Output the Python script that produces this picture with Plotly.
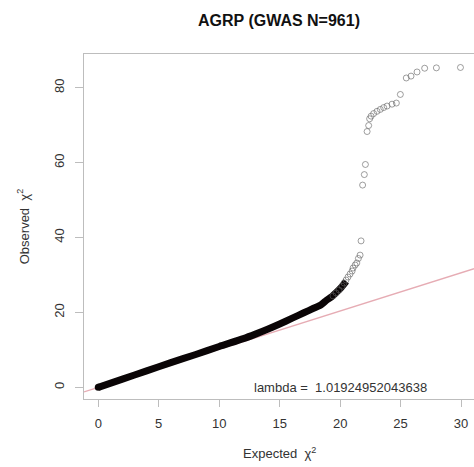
import plotly.graph_objects as go

TITLE = "AGRP (GWAS N=961)"
LAMBDA = 1.01924952043638

# dense body of the QQ curve (overlapping circles, drawn as a thick stroke)
body_expected = [0, 2, 4, 6, 8, 10, 12, 13, 14, 15, 16, 17, 17.8, 18.4, 18.9, 19.3, 19.7, 20.1, 20.5]
body_observed = [0, 2.2, 4.4, 6.6, 8.7, 10.9, 13.0, 14.2, 15.5, 16.9, 18.4, 19.9, 21.1, 22.0, 23.3, 24.2, 25.4, 26.7, 28.3]

# individually visible points in the upper tail
tail_expected = [19.41, 19.66, 19.91, 20.16, 20.32, 20.49, 20.65, 20.82, 20.99, 21.07, 21.24,
                 21.38, 21.51, 21.65, 21.73, 21.86, 22.0, 22.09, 22.23, 22.36, 22.44, 22.56,
                 22.77, 23.05, 23.32, 23.6, 23.88, 24.29, 24.65, 24.98, 25.47, 25.86, 26.36,
                 26.99, 27.96, 29.95]
tail_observed = [24.4, 25.2, 26.0, 27.0, 27.85, 28.65, 29.45, 30.25, 31.05, 31.85, 32.65,
                 33.2, 34.4, 35.3, 39.1, 54.0, 56.8, 59.5, 68.3, 69.9, 71.7, 72.4,
                 73.1, 73.7, 74.2, 74.7, 75.1, 75.6, 75.9, 78.2, 82.6, 83.1, 84.2,
                 85.2, 85.3, 85.4]

x_ticks = [0, 5, 10, 15, 20, 25, 30]
y_ticks = [0, 20, 40, 60, 80]

X_RANGE = [-1.18, 31.07]
Y_RANGE = [-3.12, 89.0]

FONT = "Liberation Sans, Arial, Helvetica, sans-serif"
TXT = "#333333"
AX = "#bdbdbd"

fig = go.Figure()

# reference line y = lambda * x across the full plot
fig.add_trace(go.Scatter(
    x=[X_RANGE[0], X_RANGE[1]],
    y=[LAMBDA * X_RANGE[0], LAMBDA * X_RANGE[1]],
    mode="lines", line=dict(color="rgb(230,172,180)", width=1.3),
    hoverinfo="skip", showlegend=False))

fig.add_trace(go.Scatter(
    x=body_expected, y=body_observed, mode="lines",
    line=dict(color="#0a0506", width=7, shape="spline", smoothing=0.6), showlegend=False))
fig.add_trace(go.Scatter(
    x=body_expected[:1], y=body_observed[:1], mode="markers",
    marker=dict(symbol="circle", size=7, color="#0a0506"), showlegend=False))

fig.add_trace(go.Scatter(
    x=tail_expected, y=tail_observed, mode="markers",
    marker=dict(symbol="circle-open", size=6, color="rgba(95,95,95,0.6)",
                line=dict(width=1, color="rgba(95,95,95,0.6)")),
    showlegend=False))

fig.add_annotation(x=20, y=0, xref="x", yref="y",
                   text="lambda = \u00a01.01924952043638", showarrow=False,
                   font=dict(family=FONT, size=13, color=TXT),
                   xanchor="center", yanchor="middle")

fig.add_annotation(x=15.0, y=-0.1565, xref="x", yref="paper",
                   text="Expected \u00a0\u03c7<sup>2</sup>", showarrow=False,
                   font=dict(family=FONT, size=13, color=TXT),
                   xanchor="center", yanchor="middle")
fig.add_annotation(x=-0.157, y=0.5, xref="paper", yref="paper",
                   text="Observed \u00a0\u03c7<sup>2</sup>", showarrow=False, textangle=-90,
                   font=dict(family=FONT, size=13, color=TXT),
                   xanchor="center", yanchor="middle")

fig.update_layout(
    width=474, height=467,
    margin=dict(l=84, r=0, t=54, b=68, pad=0),
    paper_bgcolor="white", plot_bgcolor="white",
    title=dict(text="<b>" + TITLE + "</b>", x=0.5, xref="paper", xanchor="center",
               y=1 - 20 / 467, yanchor="middle",
               font=dict(family=FONT, size=16, color="#111111")),
    font=dict(family=FONT, size=13, color=TXT),
)
fig.update_xaxes(range=X_RANGE, tickvals=x_ticks, ticktext=[str(v) for v in x_ticks],
                 showgrid=False, zeroline=False, showline=True, mirror=True,
                 linecolor=AX, linewidth=1, ticks="outside", ticklen=7, tickcolor=AX,
                 tickfont=dict(family=FONT, size=13, color=TXT), ticklabelstandoff=5)
fig.update_yaxes(range=Y_RANGE, tickvals=y_ticks, ticktext=[str(v) for v in y_ticks],
                 showgrid=False, zeroline=False, showline=True, mirror=False,
                 linecolor=AX, linewidth=1, ticks="outside", ticklen=8, tickcolor=AX,
                 tickangle=-90,
                 tickfont=dict(family=FONT, size=13, color=TXT), ticklabelstandoff=6)

fig.write_html("out.html", config={"displayModeBar": False},
               post_script="document.body.style.margin='0';document.body.style.overflow='hidden';")
